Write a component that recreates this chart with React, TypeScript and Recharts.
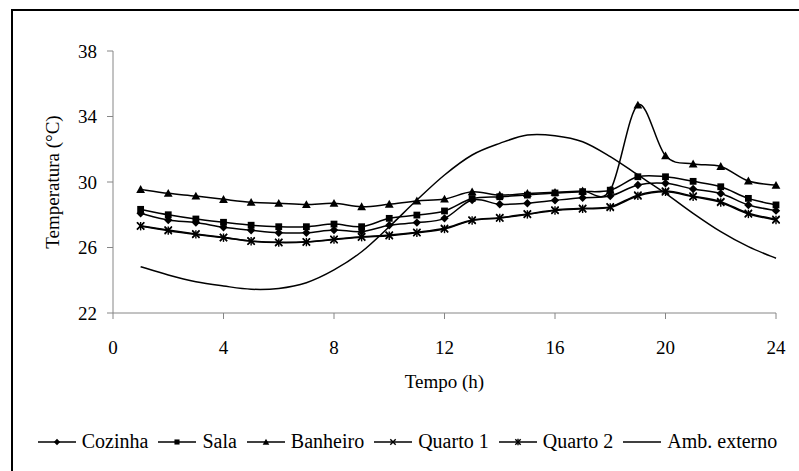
import { LineChart, Line, XAxis, YAxis, Legend } from 'recharts'

const hours = [1, 2, 3, 4, 5, 6, 7, 8, 9, 10, 11, 12, 13, 14, 15, 16, 17, 18, 19, 20, 21, 22, 23, 24]
const cozinha = [28.09, 27.68, 27.52, 27.23, 27.05, 26.9, 26.9, 27.07, 26.97, 27.36, 27.52, 27.78, 28.9, 28.64, 28.7, 28.88, 29.04, 29.14, 29.82, 29.92, 29.57, 29.3, 28.6, 28.25]
const sala = [28.33, 28.0, 27.74, 27.54, 27.36, 27.27, 27.27, 27.43, 27.27, 27.78, 27.98, 28.23, 28.99, 29.1, 29.2, 29.33, 29.41, 29.5, 30.32, 30.32, 30.04, 29.71, 29.0, 28.6]
const banheiro = [29.55, 29.31, 29.14, 28.94, 28.76, 28.7, 28.62, 28.7, 28.49, 28.64, 28.84, 28.96, 29.4, 29.2, 29.3, 29.37, 29.45, 29.5, 34.7, 31.6, 31.1, 30.95, 30.06, 29.8]
const quarto1 = [27.33, 27.07, 26.83, 26.62, 26.4, 26.32, 26.35, 26.5, 26.66, 26.76, 26.93, 27.17, 27.68, 27.82, 28.05, 28.29, 28.39, 28.49, 29.2, 29.45, 29.14, 28.8, 28.09, 27.72]
const quarto2 = [27.3, 27.03, 26.8, 26.6, 26.38, 26.3, 26.33, 26.48, 26.63, 26.72, 26.9, 27.13, 27.65, 27.8, 28.02, 28.26, 28.36, 28.45, 29.15, 29.4, 29.1, 28.75, 28.05, 27.68]
const ambExterno = [24.83, 24.32, 23.91, 23.65, 23.45, 23.5, 23.85, 24.63, 25.74, 27.27, 28.9, 30.43, 31.65, 32.36, 32.87, 32.83, 32.46, 31.55, 30.43, 29.31, 28.09, 26.97, 26.05, 25.34]
const xTicks = [0, 4, 8, 12, 16, 20, 24]
const yTicks = [22, 26, 30, 34, 38]

const data = hours.map((h, i) => ({
  h,
  cozinha: cozinha[i],
  sala: sala[i],
  banheiro: banheiro[i],
  quarto1: quarto1[i],
  quarto2: quarto2[i],
  amb: ambExterno[i],
}))

const series = [
  { key: 'cozinha', name: 'Cozinha', shape: 'diamond' },
  { key: 'sala', name: 'Sala', shape: 'square' },
  { key: 'banheiro', name: 'Banheiro', shape: 'triangle' },
  { key: 'quarto1', name: 'Quarto 1', shape: 'cross' },
  { key: 'quarto2', name: 'Quarto 2', shape: 'star' },
  { key: 'amb', name: 'Amb. externo', shape: 'none' },
]

const FONT = "'Liberation Serif', 'Times New Roman', serif"
const AXIS = '#868686'

// smoothed line like the spreadsheet one (catmull-rom through the points)
function smoothCurve(ctx: any) {
  let pts: number[][] = []
  return {
    areaStart() {},
    areaEnd() {},
    lineStart() { pts = [] },
    point(x: number, y: number) { pts.push([+x, +y]) },
    lineEnd() {
      if (!pts.length) return
      ctx.moveTo(pts[0][0], pts[0][1])
      for (let i = 0; i < pts.length - 1; i++) {
        const p0 = pts[i - 1] || pts[i]
        const p1 = pts[i]
        const p2 = pts[i + 1]
        const p3 = pts[i + 2] || p2
        ctx.bezierCurveTo(
          p1[0] + (p2[0] - p0[0]) / 6, p1[1] + (p2[1] - p0[1]) / 6,
          p2[0] - (p3[0] - p1[0]) / 6, p2[1] - (p3[1] - p1[1]) / 6,
          p2[0], p2[1]
        )
      }
    },
  }
}

function Marker({ shape, cx, cy, s = 1 }: { shape: string; cx: number; cy: number; s?: number }) {
  if (shape === 'diamond') {
    const r = 4.2 * s
    return <path d={`M${cx},${cy - r}L${cx + r},${cy}L${cx},${cy + r}L${cx - r},${cy}Z`} fill="#000" />
  }
  if (shape === 'square') {
    const r = 3.4 * s
    return <rect x={cx - r} y={cy - r} width={2 * r} height={2 * r} fill="#000" />
  }
  if (shape === 'triangle') {
    const r = 4.4 * s
    return <path d={`M${cx},${cy - r}L${cx + r},${cy + r * 0.8}L${cx - r},${cy + r * 0.8}Z`} fill="#000" />
  }
  if (shape === 'cross' || shape === 'star') {
    const r = 3.6 * s
    return (
      <g stroke="#000" strokeWidth={1.4}>
        <line x1={cx - r} y1={cy - r} x2={cx + r} y2={cy + r} />
        <line x1={cx - r} y1={cy + r} x2={cx + r} y2={cy - r} />
        {shape === 'star' && <line x1={cx} y1={cy - r - 0.6} x2={cx} y2={cy + r + 0.6} />}
      </g>
    )
  }
  return null
}

function LegendContent() {
  return (
    <div style={{ display: 'flex', justifyContent: 'center', alignItems: 'center', paddingLeft: 16, fontFamily: FONT, fontSize: 20, color: '#000', whiteSpace: 'nowrap' }}>
      {series.map((s, i) => (
        <div key={s.key} style={{ display: 'flex', alignItems: 'center', marginRight: i < series.length - 1 ? 10 : 0 }}>
          <svg width={38} height={12} style={{ marginRight: 6 }}>
            <line x1={0} y1={6} x2={38} y2={6} stroke="#000" strokeWidth={1.5} />
            <Marker shape={s.shape} cx={19} cy={6} s={0.75} />
          </svg>
          <span>{s.name}</span>
        </div>
      ))}
    </div>
  )
}

export default function App() {
  return (
    <div style={{ position: 'absolute', left: 0, top: 0, width: 799, height: 471, background: '#fff', overflow: 'hidden', fontFamily: FONT }}>
      <div style={{ position: 'absolute', left: 11, top: 9, width: 800, height: 480, borderLeft: '2px solid #000', borderTop: '2px solid #000' }} />
      <LineChart width={799} height={471} data={data} margin={{ top: 51, right: 23, bottom: 98, left: 0 }}>
        <XAxis
          dataKey="h"
          type="number"
          domain={[0, 24]}
          ticks={xTicks}
          height={60}
          stroke={AXIS}
          tickSize={6}
          tickMargin={22}
          tick={{ fill: '#000', fontSize: 19, fontFamily: FONT }}
          label={{ value: 'Tempo (h)', position: 'bottom', offset: 2, fill: '#000', fontSize: 19, fontFamily: FONT }}
        />
        <YAxis
          type="number"
          domain={[22, 38]}
          ticks={yTicks}
          width={113}
          stroke={AXIS}
          tickSize={6}
          tickMargin={10}
          tick={{ fill: '#000', fontSize: 19, fontFamily: FONT }}
          label={{ value: 'Temperatura (°C)', angle: -90, position: 'center', dx: -4, fill: '#000', fontSize: 19, fontFamily: FONT }}
        />
        <Legend verticalAlign="middle" layout="horizontal" content={<LegendContent />} wrapperStyle={{ top: 430, left: 0, width: 799 }} />
        {series.map((s) => (
          <Line
            key={s.key}
            dataKey={s.key}
            name={s.name}
            type={smoothCurve as any}
            stroke="#000"
            strokeWidth={1.5}
            isAnimationActive={false}
            activeDot={false}
            dot={s.shape === 'none' ? false : (p: any) => (
              <g key={`${s.key}-${p.index}`}>
                <Marker shape={s.shape} cx={p.cx} cy={p.cy} />
              </g>
            )}
          />
        ))}
      </LineChart>
    </div>
  )
}
